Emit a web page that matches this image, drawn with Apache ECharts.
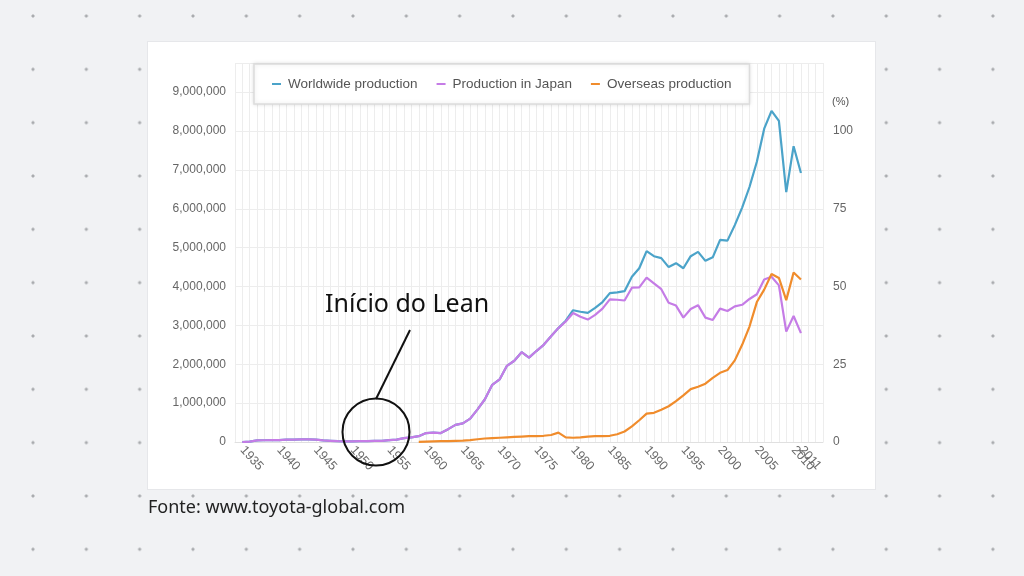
<!DOCTYPE html>
<html>
<head>
<meta charset="utf-8">
<script src="https://cdn.jsdelivr.net/npm/echarts@6/dist/echarts.min.js"></script>
<style>
  html, body { margin: 0; padding: 0; }
  body {
    width: 1024px; height: 576px; overflow: hidden; position: relative;
    background-color: #f1f2f4;
    background-image: radial-gradient(circle, #a9abae 1.2px, rgba(169,171,174,0) 1.9px);
    background-size: 53.33px 53.33px;
    background-position: 6.33px -10.67px;
  }
  #panel { position: absolute; left: 148px; top: 42px; width: 727px; height: 447px;
    background: #fff; box-shadow: 0 0 0 1px #e6e7ea; }
  #chart { position: absolute; left: 0; top: 0; width: 1024px; height: 576px; }
</style>
</head>
<body>
<div id="panel"></div>
<div id="chart"></div>
<script>
const years = [1935,1936,1937,1938,1939,1940,1941,1942,1943,1944,1945,1946,1947,1948,1949,
  1950,1951,1952,1953,1954,1955,1956,1957,1958,1959,1960,1961,1962,1963,1964,1965,1966,1967,
  1968,1969,1970,1971,1972,1973,1974,1975,1976,1977,1978,1979,1980,1981,1982,1983,1984,1985,
  1986,1987,1988,1989,1990,1991,1992,1993,1994,1995,1996,1997,1998,1999,2000,2001,2002,2003,
  2004,2005,2006,2007,2008,2009,2010,2011];

const xTickLabels = [1935,1940,1945,1950,1955,1960,1965,1970,1975,1980,1985,1990,1995,2000,2005,2010,2011];

// values in millions of units
const worldwide = [0.00,0.01,0.04,0.045,0.05,0.05,0.06,0.06,0.07,0.07,0.06,0.04,0.03,0.02,0.015,
  0.015,0.02,0.02,0.03,0.03,0.05,0.06,0.10,0.12,0.15,0.23,0.24,0.23,0.33,0.44,0.48,0.60,0.84,
  1.10,1.47,1.61,1.96,2.09,2.31,2.17,2.34,2.50,2.72,2.93,3.12,3.39,3.35,3.32,3.45,3.60,3.83,
  3.85,3.88,4.25,4.47,4.91,4.78,4.73,4.50,4.60,4.47,4.78,4.89,4.66,4.75,5.20,5.18,5.58,6.03,
  6.56,7.21,8.06,8.52,8.26,6.43,7.61,6.92];

const japan = [0.00,0.01,0.04,0.045,0.05,0.05,0.06,0.06,0.07,0.07,0.06,0.04,0.03,0.02,0.015,
  0.015,0.02,0.02,0.03,0.03,0.05,0.06,0.10,0.12,0.15,0.23,0.24,0.23,0.33,0.44,0.48,0.60,0.84,
  1.10,1.47,1.61,1.96,2.09,2.31,2.17,2.34,2.50,2.72,2.93,3.10,3.32,3.22,3.15,3.27,3.43,3.67,
  3.66,3.64,3.97,3.98,4.23,4.08,3.93,3.58,3.51,3.20,3.42,3.52,3.20,3.14,3.43,3.37,3.49,3.53,
  3.68,3.80,4.18,4.25,4.03,2.84,3.24,2.80];

const overseas = [null,null,null,null,null,null,null,null,null,null,null,null,null,null,null,
  null,null,null,null,null,null,null,null,null,0.005,0.01,0.015,0.02,0.025,0.03,0.035,0.05,0.07,
  0.09,0.10,0.11,0.12,0.13,0.14,0.15,0.15,0.16,0.18,0.24,0.12,0.11,0.12,0.14,0.15,0.15,0.16,
  0.20,0.27,0.40,0.56,0.73,0.75,0.83,0.92,1.05,1.20,1.36,1.42,1.50,1.65,1.78,1.85,2.10,2.50,
  2.97,3.60,3.92,4.32,4.22,3.65,4.36,4.18];

const seriesNames = ['Worldwide production', 'Production in Japan', 'Overseas production'];
const seriesColors = ['#4ba3c9', '#c57ce6', '#f08c2c'];

function pairs(arr) {
  return years.map((y, i) => [y, arr[i] == null ? null : arr[i] * 1000000]);
}

const chart = echarts.init(document.getElementById('chart'), null, { renderer: 'canvas' });
const font = '"Liberation Sans", Arial, sans-serif';
const slideFont = '"Noto Sans", Lato, sans-serif';

chart.setOption({
  backgroundColor: 'transparent',
  animation: false,
  textStyle: { fontFamily: font },
  grid: { left: 235, right: 201, top: 63, bottom: 134, containLabel: false },
  legend: {
    left: 254, top: 64,
    padding: [13, 18, 13, 18],
    itemGap: 19,
    icon: 'rect', itemWidth: 9, itemHeight: 2,
    backgroundColor: '#fff',
    borderColor: '#dcdcdc', borderWidth: 1.5,
    shadowColor: 'rgba(0,0,0,0.12)', shadowBlur: 4,
    textStyle: { color: '#555', fontSize: 13.5, fontFamily: font, padding: [0, 0, 0, 2] },
    data: seriesNames
  },
  xAxis: {
    type: 'value', min: 1934, max: 2014, interval: 1,
    axisLine: { show: true, lineStyle: { color: '#e0e0e0' } },
    axisTick: { show: false },
    splitLine: { show: true, lineStyle: { color: '#ededed', width: 1 } },
    axisLabel: {
      color: '#6a6a6a', fontSize: 12.5, rotate: -48, margin: 6,
      showMinLabel: false, showMaxLabel: false,
      formatter: v => xTickLabels.indexOf(v) >= 0 ? String(v) : ''
    }
  },
  yAxis: [
    {
      type: 'value', min: 0, max: 9750000, interval: 1000000,
      axisLine: { show: false }, axisTick: { show: false },
      splitLine: { lineStyle: { color: '#ededed' } },
      axisLabel: {
        color: '#666', fontSize: 12, margin: 9, showMaxLabel: false,
        formatter: v => v.toLocaleString('en-US')
      }
    },
    {
      type: 'value', min: 0, max: 121.875, interval: 25, position: 'right',
      axisLine: { show: false }, axisTick: { show: false },
      splitLine: { show: false },
      axisLabel: { color: '#666', fontSize: 12, margin: 10, showMaxLabel: false }
    }
  ],
  series: [
    { name: seriesNames[0], type: 'line', data: pairs(worldwide), symbol: 'none', z: 2,
      lineStyle: { color: seriesColors[0], width: 2.2 }, itemStyle: { color: seriesColors[0] } },
    { name: seriesNames[1], type: 'line', data: pairs(japan), symbol: 'none', z: 3,
      lineStyle: { color: seriesColors[1], width: 2.2 }, itemStyle: { color: seriesColors[1] } },
    { name: seriesNames[2], type: 'line', data: pairs(overseas), symbol: 'none', z: 4, connectNulls: false,
      lineStyle: { color: seriesColors[2], width: 2.2 }, itemStyle: { color: seriesColors[2] } }
  ],
  graphic: [
    { type: 'text', z: 100, left: 832, top: 96,
      style: { text: '(%)', fill: '#555', font: '11px ' + font } },
    { type: 'text', z: 100, left: 325, top: 292,
      style: { text: 'Início do Lean', fill: '#111', font: '25px ' + slideFont } },
    { type: 'line', z: 100, shape: { x1: 410, y1: 330, x2: 376, y2: 399 },
      style: { stroke: '#111', lineWidth: 2 } },
    { type: 'circle', z: 100, shape: { cx: 376, cy: 432, r: 33.5 },
      style: { stroke: '#111', lineWidth: 2, fill: 'none' } },
    { type: 'text', z: 100, left: 148, top: 499,
      style: { text: 'Fonte: www.toyota-global.com', fill: '#222', font: '18px ' + slideFont } }
  ]
});
</script>
</body>
</html>
